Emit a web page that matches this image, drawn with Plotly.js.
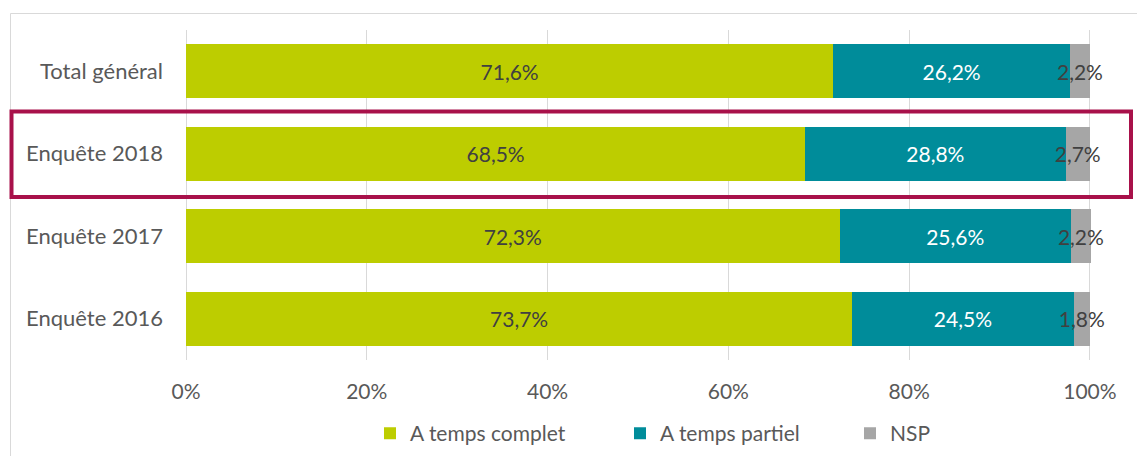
<!DOCTYPE html>
<html>
<head>
<meta charset="utf-8">
<script src="https://cdn.plot.ly/plotly-3.0.1.min.js"></script>
<style>html,body{margin:0;padding:0;background:#fff;}#chart{width:1137px;height:456px;}</style>
</head>
<body>
<div id="chart"></div>
<script>
var categories = ["Total général", "Enquête 2018", "Enquête 2017", "Enquête 2016"];
var complet = [71.6, 68.5, 72.3, 73.7];
var partiel = [26.2, 28.8, 25.6, 24.5];
var nsp = [2.2, 2.7, 2.2, 1.8];
var seriesNames = ["A temps complet", "A temps partiel", "NSP"];
var xTicks = [0, 20, 40, 60, 80, 100];
var xTickLabels = ["0%", "20%", "40%", "60%", "80%", "100%"];

var FONT = "Lato, 'Open Sans', sans-serif";
var FS = 21;

function bar(name, vals, color, textColor, legendId) {
  return {
    type: "bar", orientation: "h", name: name,
    y: categories, x: vals,
    marker: {color: color, line: {width: 0}},
    texttemplate: "%{x:.1f}%",
    textposition: "inside", insidetextanchor: "middle",
    textangle: 0,
    constraintext: "none",
    cliponaxis: false,
    textfont: {family: FONT, size: FS, color: textColor},
    hoverinfo: "skip",
    legend: legendId
  };
}

var data = [
  bar(seriesNames[0], complet, "#BDCD00", "#404040", "legend"),
  bar(seriesNames[1], partiel, "#008C9A", "#FFFFFF", "legend2"),
  bar(seriesNames[2], nsp, "#A6A6A6", "#404040", "legend3")
];

var legendBase = {orientation: "h", yanchor: "middle", xanchor: "left", y: -0.22 - 1 / 330,
  font: {family: FONT, size: FS, color: "#595959"}, bgcolor: "rgba(0,0,0,0)"};

var layout = {
  width: 1137, height: 456,
  margin: {l: 186, r: 46, t: 30, b: 96, autoexpand: false},
  barmode: "stack", bargap: 0.345,
  separators: ",.",
  paper_bgcolor: "#fff", plot_bgcolor: "#fff",
  font: {family: FONT, size: FS, color: "#595959"},
  xaxis: {range: [0, 100.12], tickvals: xTicks, ticktext: xTickLabels, showgrid: true,
    gridcolor: "#D9D9D9", gridwidth: 1, zeroline: true, zerolinecolor: "#D9D9D9",
    showline: false, ticks: "", ticklabelstandoff: 17, fixedrange: true,
    tickfont: {family: FONT, size: FS, color: "#595959"}},
  yaxis: {autorange: "reversed", type: "category", showgrid: false, showline: false,
    ticks: "", ticklabelstandoff: 22, fixedrange: true,
    tickfont: {family: FONT, size: 22, color: "#595959"}},
  legend: Object.assign({}, legendBase, {x: (370 - 186) / 905}),
  legend2: Object.assign({}, legendBase, {x: (620 - 186) / 905}),
  legend3: Object.assign({}, legendBase, {x: (850 - 186) / 905}),
  showlegend: true,
  shapes: [
    {type: "rect", xref: "paper", yref: "paper", x0: (10.5 - 186) / 905, x1: 1.2,
      y0: -0.6, y1: (360 - 13.5) / 330, line: {color: "#D9D9D9", width: 1}, layer: "below"},
    {type: "rect", xref: "paper", yref: "paper", x0: (11.5 - 186) / 905, x1: (1131 - 186) / 905,
      y0: 0.5 - 2 / 330, y1: 0.75 + 1 / 330, line: {color: "#A8114A", width: 4}}
  ]
};

Plotly.newPlot("chart", data, layout, {displayModeBar: false, staticPlot: true});
</script>
</body>
</html>
